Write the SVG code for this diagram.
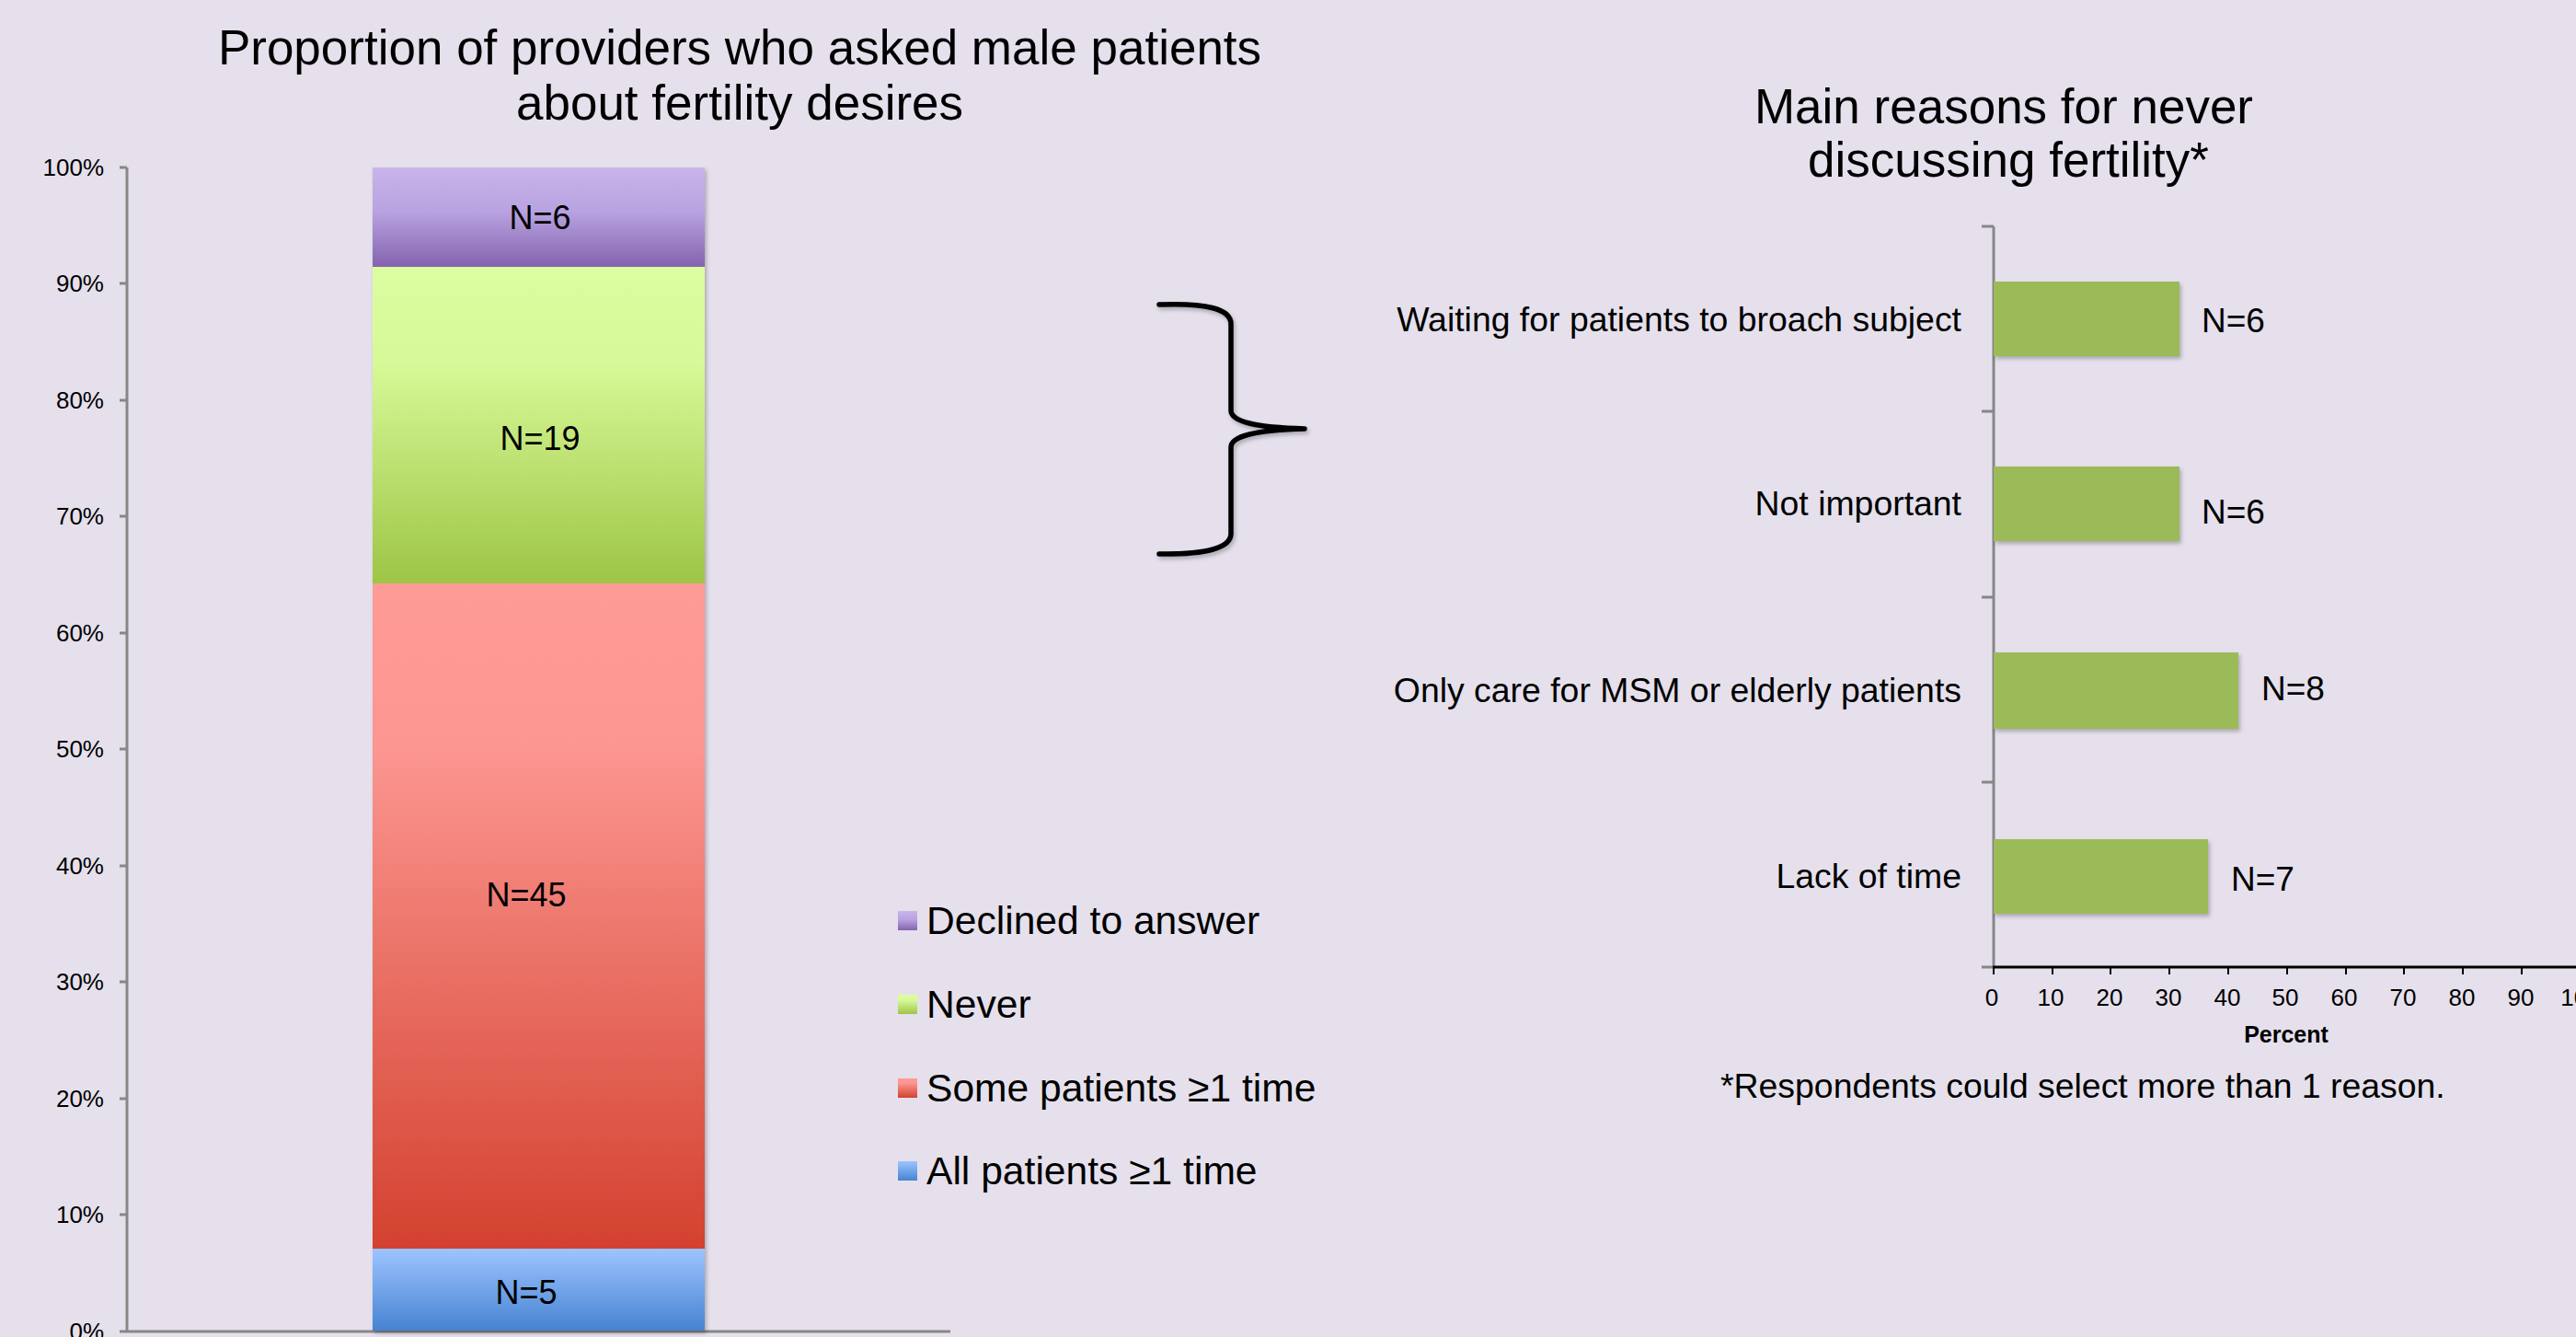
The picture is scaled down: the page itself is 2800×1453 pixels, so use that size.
<svg xmlns="http://www.w3.org/2000/svg" width="2800" height="1453" viewBox="0 0 2800 1453">
<defs>
<style>
text{font-family:"Liberation Sans",Arial,sans-serif;fill:#000}
.title{font-size:53px;text-anchor:middle}
.tick{font-size:26px}
.axis{stroke:#878787;stroke-width:3;fill:none}
.seg{font-size:36px;text-anchor:middle}
.leg{font-size:42.6px}
.cat{font-size:37.4px;text-anchor:end}
.val{font-size:37px}
.bar{fill:#9BBB59}
</style>
<linearGradient id="gPurple" x1="0" y1="0" x2="0" y2="1">
<stop offset="0" stop-color="#CAB4EB"/><stop offset="0.45" stop-color="#B8A2E0"/><stop offset="1" stop-color="#8463AE"/>
</linearGradient>
<linearGradient id="gGreen" x1="0" y1="0" x2="0" y2="1">
<stop offset="0" stop-color="#DCFDA0"/><stop offset="0.3" stop-color="#D8F998"/><stop offset="1" stop-color="#9DC545"/>
</linearGradient>
<linearGradient id="gRed" x1="0" y1="0" x2="0" y2="1">
<stop offset="0" stop-color="#FF9B97"/><stop offset="0.25" stop-color="#FC9690"/><stop offset="1" stop-color="#D3412F"/>
</linearGradient>
<linearGradient id="gBlue" x1="0" y1="0" x2="0" y2="1">
<stop offset="0" stop-color="#9DC4FF"/><stop offset="1" stop-color="#4783D2"/>
</linearGradient>
<filter id="shadow" x="-10%" y="-10%" width="130%" height="130%">
<feDropShadow dx="2" dy="3" stdDeviation="2" flood-color="#000" flood-opacity="0.25"/>
</filter>
</defs>
<rect x="0" y="0" width="2800" height="1453" fill="#E5E0EC"/>

<g id="left-title">
<text class="title" x="804" y="70">Proportion of providers who asked male patients</text>
<text class="title" x="804" y="130">about fertility desires</text>
</g>

<g id="left-axis">
<line class="axis" x1="138" y1="182" x2="138" y2="1447"/>
<line class="axis" x1="130" y1="1447" x2="1033" y2="1447"/>
<g class="axis">
<line x1="130" y1="182" x2="138" y2="182"/>
<line x1="130" y1="308" x2="138" y2="308"/>
<line x1="130" y1="435" x2="138" y2="435"/>
<line x1="130" y1="561" x2="138" y2="561"/>
<line x1="130" y1="688" x2="138" y2="688"/>
<line x1="130" y1="814" x2="138" y2="814"/>
<line x1="130" y1="941" x2="138" y2="941"/>
<line x1="130" y1="1067" x2="138" y2="1067"/>
<line x1="130" y1="1194" x2="138" y2="1194"/>
<line x1="130" y1="1320" x2="138" y2="1320"/>
</g>
<g class="tick" text-anchor="end">
<text x="113" y="191">100%</text>
<text x="113" y="317">90%</text>
<text x="113" y="444">80%</text>
<text x="113" y="570">70%</text>
<text x="113" y="697">60%</text>
<text x="113" y="823">50%</text>
<text x="113" y="950">40%</text>
<text x="113" y="1076">30%</text>
<text x="113" y="1203">20%</text>
<text x="113" y="1329">10%</text>
<text x="113" y="1456">0%</text>
</g>
</g>

<g id="stacked-bar" filter="url(#shadow)">
<rect x="405" y="182" width="361" height="108" fill="url(#gPurple)"/>
<rect x="405" y="290" width="361" height="344" fill="url(#gGreen)"/>
<rect x="405" y="634" width="361" height="723" fill="url(#gRed)"/>
<rect x="405" y="1357" width="361" height="89" fill="url(#gBlue)"/>
</g>
<g id="segment-labels">
<text class="seg" x="587" y="249">N=6</text>
<text class="seg" x="587" y="489">N=19</text>
<text class="seg" x="572" y="985">N=45</text>
<text class="seg" x="572" y="1417">N=5</text>
</g>

<g id="legend">
<rect x="976" y="990" width="21" height="21" fill="url(#gPurple)"/>
<text class="leg" x="1007" y="1015">Declined to answer</text>
<rect x="976" y="1081" width="21" height="21" fill="url(#gGreen)"/>
<text class="leg" x="1007" y="1106">Never</text>
<rect x="976" y="1172" width="21" height="21" fill="url(#gRed)"/>
<text class="leg" x="1007" y="1197">Some patients ≥1 time</text>
<rect x="976" y="1262" width="21" height="21" fill="url(#gBlue)"/>
<text class="leg" x="1007" y="1287">All patients ≥1 time</text>
</g>

<g id="connectors">
<path id="brace" d="M1260,331 Q1338,328 1338,352 L1338,446 Q1338,464 1418,466 Q1338,468 1338,486 L1338,580 Q1338,603 1260,602" fill="none" stroke="#000" stroke-width="5.5" stroke-linecap="round" stroke-linejoin="round" filter="url(#shadow)"/>
</g>

<g id="right-title">
<text class="title" x="2178" y="134">Main reasons for never</text>
<text class="title" x="2183" y="192">discussing fertility*</text>
</g>

<g id="right-axes">
<line class="axis" x1="2167" y1="246" x2="2167" y2="1051"/>
<g class="axis">
<line x1="2154" y1="246" x2="2167" y2="246"/>
<line x1="2154" y1="447" x2="2167" y2="447"/>
<line x1="2154" y1="649" x2="2167" y2="649"/>
<line x1="2154" y1="850" x2="2167" y2="850"/>
<line x1="2154" y1="1051" x2="2167" y2="1051"/>
</g>
<line x1="2166" y1="1051" x2="2800" y2="1051" stroke="#000" stroke-width="3"/>
<g stroke="#000" stroke-width="2">
<line x1="2167" y1="1051" x2="2167" y2="1059"/>
<line x1="2231" y1="1051" x2="2231" y2="1059"/>
<line x1="2294" y1="1051" x2="2294" y2="1059"/>
<line x1="2358" y1="1051" x2="2358" y2="1059"/>
<line x1="2422" y1="1051" x2="2422" y2="1059"/>
<line x1="2486" y1="1051" x2="2486" y2="1059"/>
<line x1="2550" y1="1051" x2="2550" y2="1059"/>
<line x1="2613" y1="1051" x2="2613" y2="1059"/>
<line x1="2677" y1="1051" x2="2677" y2="1059"/>
<line x1="2741" y1="1051" x2="2741" y2="1059"/>
</g>
<g class="tick" text-anchor="middle">
<text x="2165" y="1093">0</text>
<text x="2229" y="1093">10</text>
<text x="2293" y="1093">20</text>
<text x="2357" y="1093">30</text>
<text x="2421" y="1093">40</text>
<text x="2484" y="1093">50</text>
<text x="2548" y="1093">60</text>
<text x="2612" y="1093">70</text>
<text x="2676" y="1093">80</text>
<text x="2740" y="1093">90</text>
<text x="2805" y="1093">100</text>
</g>
<text x="2485" y="1133" font-size="25" font-weight="bold" text-anchor="middle">Percent</text>
</g>

<g id="bars" filter="url(#shadow)">
<rect class="bar" x="2167" y="306" width="202" height="81"/>
<rect class="bar" x="2167" y="507" width="202" height="81"/>
<rect class="bar" x="2167" y="709" width="266" height="83"/>
<rect class="bar" x="2167" y="912" width="233" height="81"/>
</g>
<g id="category-labels">
<text class="cat" x="2132" y="360">Waiting for patients to broach subject</text>
<text class="cat" x="2132" y="560">Not important</text>
<text class="cat" x="2132" y="763">Only care for MSM or elderly patients</text>
<text class="cat" x="2132" y="965">Lack of time</text>
</g>
<g id="value-labels">
<text class="val" x="2393" y="361">N=6</text>
<text class="val" x="2393" y="569">N=6</text>
<text class="val" x="2458" y="761">N=8</text>
<text class="val" x="2425" y="968">N=7</text>
</g>
<g id="footnote">
<text x="1870" y="1193" font-size="37.4">*Respondents could select more than 1 reason.</text>
</g>
</svg>
